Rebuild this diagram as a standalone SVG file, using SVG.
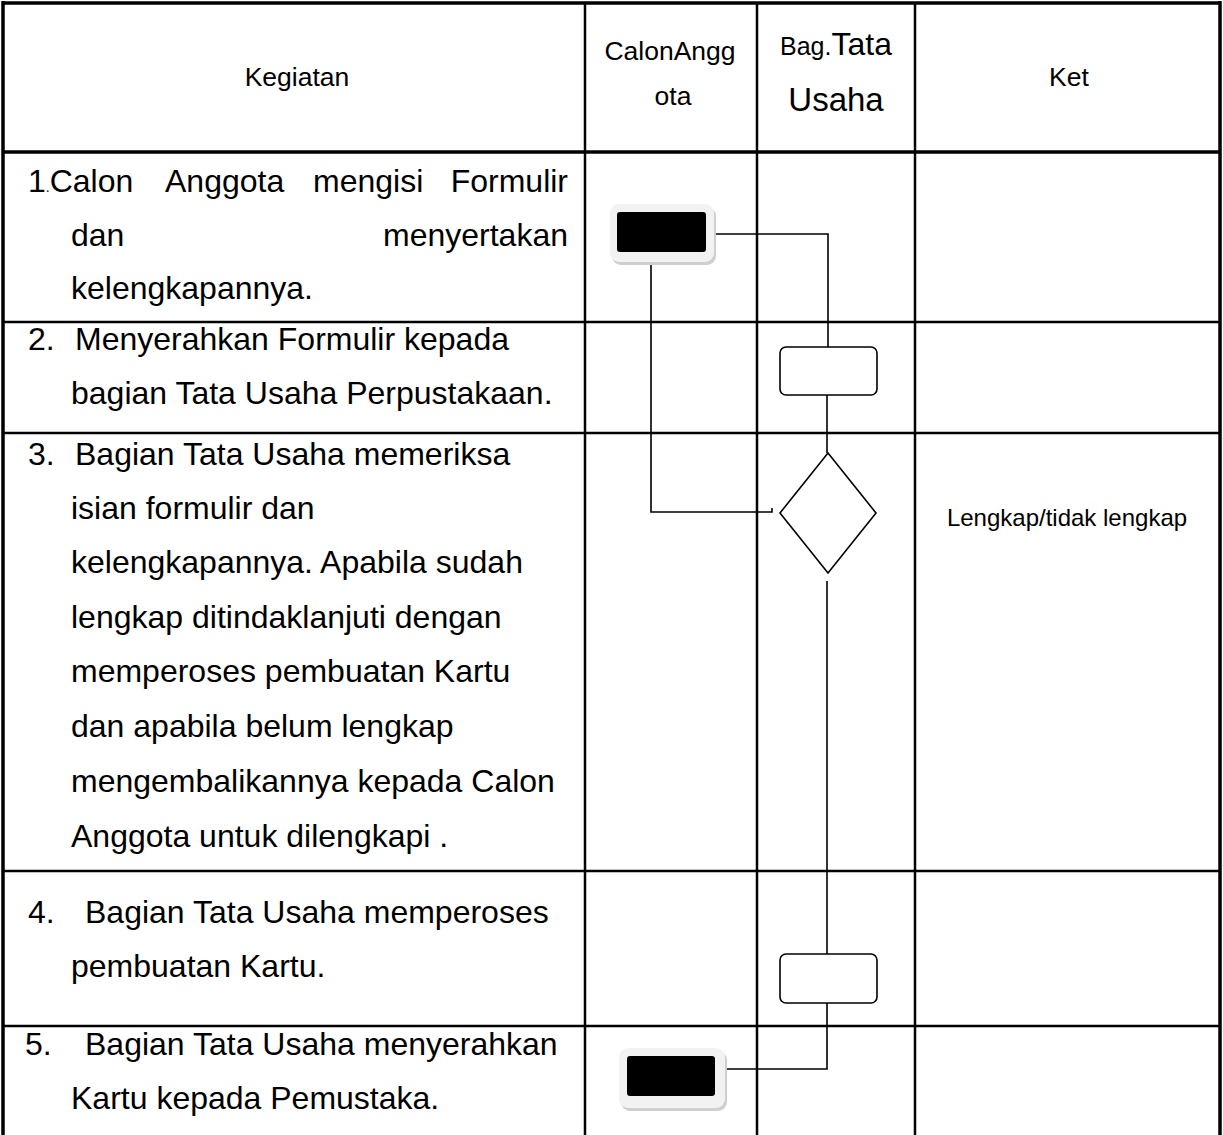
<svg xmlns="http://www.w3.org/2000/svg" width="1223" height="1135" viewBox="0 0 1223 1135">
<defs>
<style>
text{font-family:"Liberation Sans",Arial,sans-serif;fill:#000}
.b{font-size:32px}
.s{font-size:26.5px}
.grid{stroke:#000;stroke-width:2.5;fill:none}
.thick{stroke:#000;stroke-width:3.5;fill:none}
.con{stroke:#000;stroke-width:1.6;fill:none}
.proc{fill:#fff;stroke:#000;stroke-width:1.6}
.dec{fill:#fff;stroke:#000;stroke-width:1.6}
</style>
</defs>
<rect width="1223" height="1135" fill="#fff"/>
<g id="table">
<line class="thick" x1="3" y1="3" x2="1220" y2="3"/>
<line class="thick" x1="3" y1="1" x2="3" y2="1135"/>
<line class="thick" x1="1220" y1="1" x2="1220" y2="1135"/>
<line class="grid" x1="585" y1="3" x2="585" y2="1135"/>
<line class="grid" x1="757" y1="3" x2="757" y2="1135"/>
<line class="grid" x1="915" y1="3" x2="915" y2="1135"/>
<line class="thick" x1="3" y1="152" x2="1220" y2="152"/>
<line class="grid" x1="3" y1="322" x2="1220" y2="322"/>
<line class="grid" x1="3" y1="433" x2="1220" y2="433"/>
<line class="grid" x1="3" y1="871" x2="1220" y2="871"/>
<line class="grid" x1="3" y1="1026" x2="1220" y2="1026"/>
</g>
<g id="header">
<text class="s" x="297" y="86" text-anchor="middle">Kegiatan</text>
<text class="s" x="670" y="60" text-anchor="middle">CalonAngg</text>
<text class="s" x="673" y="105" text-anchor="middle">ota</text>
<text x="836" y="55" text-anchor="middle"><tspan font-size="25">Bag.</tspan><tspan font-size="32">Tata</tspan></text>
<text font-size="33" x="836" y="111" text-anchor="middle">Usaha</text>
<text class="s" x="1069" y="86" text-anchor="middle">Ket</text>
</g>
<g id="kegiatan">
<text class="b" x="28" y="192">1<tspan font-size="14">.</tspan>Calon</text>
<text class="b" x="165" y="192">Anggota</text>
<text class="b" x="313" y="192">mengisi</text>
<text class="b" x="568" y="192" text-anchor="end">Formulir</text>
<text class="b" x="71" y="246">dan</text>
<text class="b" x="568" y="246" text-anchor="end">menyertakan</text>
<text class="b" x="71" y="299">kelengkapannya.</text>
<text class="b" x="28" y="350">2.</text>
<text class="b" x="75" y="350">Menyerahkan Formulir kepada</text>
<text class="b" x="71" y="404">bagian Tata Usaha Perpustakaan.</text>
<text class="b" x="28" y="465">3.</text>
<text class="b" x="75" y="465">Bagian Tata Usaha memeriksa</text>
<text class="b" x="71" y="519">isian formulir dan</text>
<text class="b" x="71" y="573">kelengkapannya. Apabila sudah</text>
<text class="b" x="71" y="628">lengkap ditindaklanjuti dengan</text>
<text class="b" x="71" y="682">memperoses pembuatan Kartu</text>
<text class="b" x="71" y="737">dan apabila belum lengkap</text>
<text class="b" x="71" y="792">mengembalikannya kepada Calon</text>
<text class="b" x="71" y="847">Anggota untuk dilengkapi .</text>
<text class="b" x="28" y="923">4.</text>
<text class="b" x="85" y="923">Bagian Tata Usaha memperoses</text>
<text class="b" x="71" y="977">pembuatan Kartu.</text>
<text class="b" x="25" y="1055">5.</text>
<text class="b" x="85" y="1055">Bagian Tata Usaha menyerahkan</text>
<text class="b" x="71" y="1109">Kartu kepada Pemustaka.</text>
</g>
<g id="ket">
<text font-size="24" x="1067" y="526" text-anchor="middle">Lengkap/tidak lengkap</text>
</g>
<g id="connectors">
<polyline class="con" points="709,234 828,234 828,347"/>
<line class="con" x1="827" y1="395" x2="827" y2="453"/>
<polyline class="con" points="651,256 651,512 772,512 772,508"/>
<line class="con" x1="827" y1="581" x2="827" y2="954"/>
<polyline class="con" points="827,1003 827,1069 715,1069"/>
</g>
<g id="start">
<rect x="612" y="207" width="104" height="58" rx="9" fill="#cfcfcf"/>
<rect x="610" y="204" width="104" height="58" rx="9" fill="#f2f2f2"/>
<rect x="617" y="212" width="89" height="40" rx="3" fill="#000"/>
</g>
<g id="serah">
<rect x="780" y="347" width="97" height="48" rx="6" class="proc"/>
</g>
<g id="periksa">
<polygon points="828,453 876,513 828,573 780,513" class="dec"/>
</g>
<g id="proses">
<rect x="780" y="954" width="97" height="49" rx="6" class="proc"/>
</g>
<g id="end">
<rect x="621" y="1051" width="106" height="60" rx="9" fill="#cfcfcf"/>
<rect x="619" y="1048" width="106" height="60" rx="9" fill="#f2f2f2"/>
<rect x="627" y="1056" width="88" height="40" rx="3" fill="#000"/>
</g>
</svg>
